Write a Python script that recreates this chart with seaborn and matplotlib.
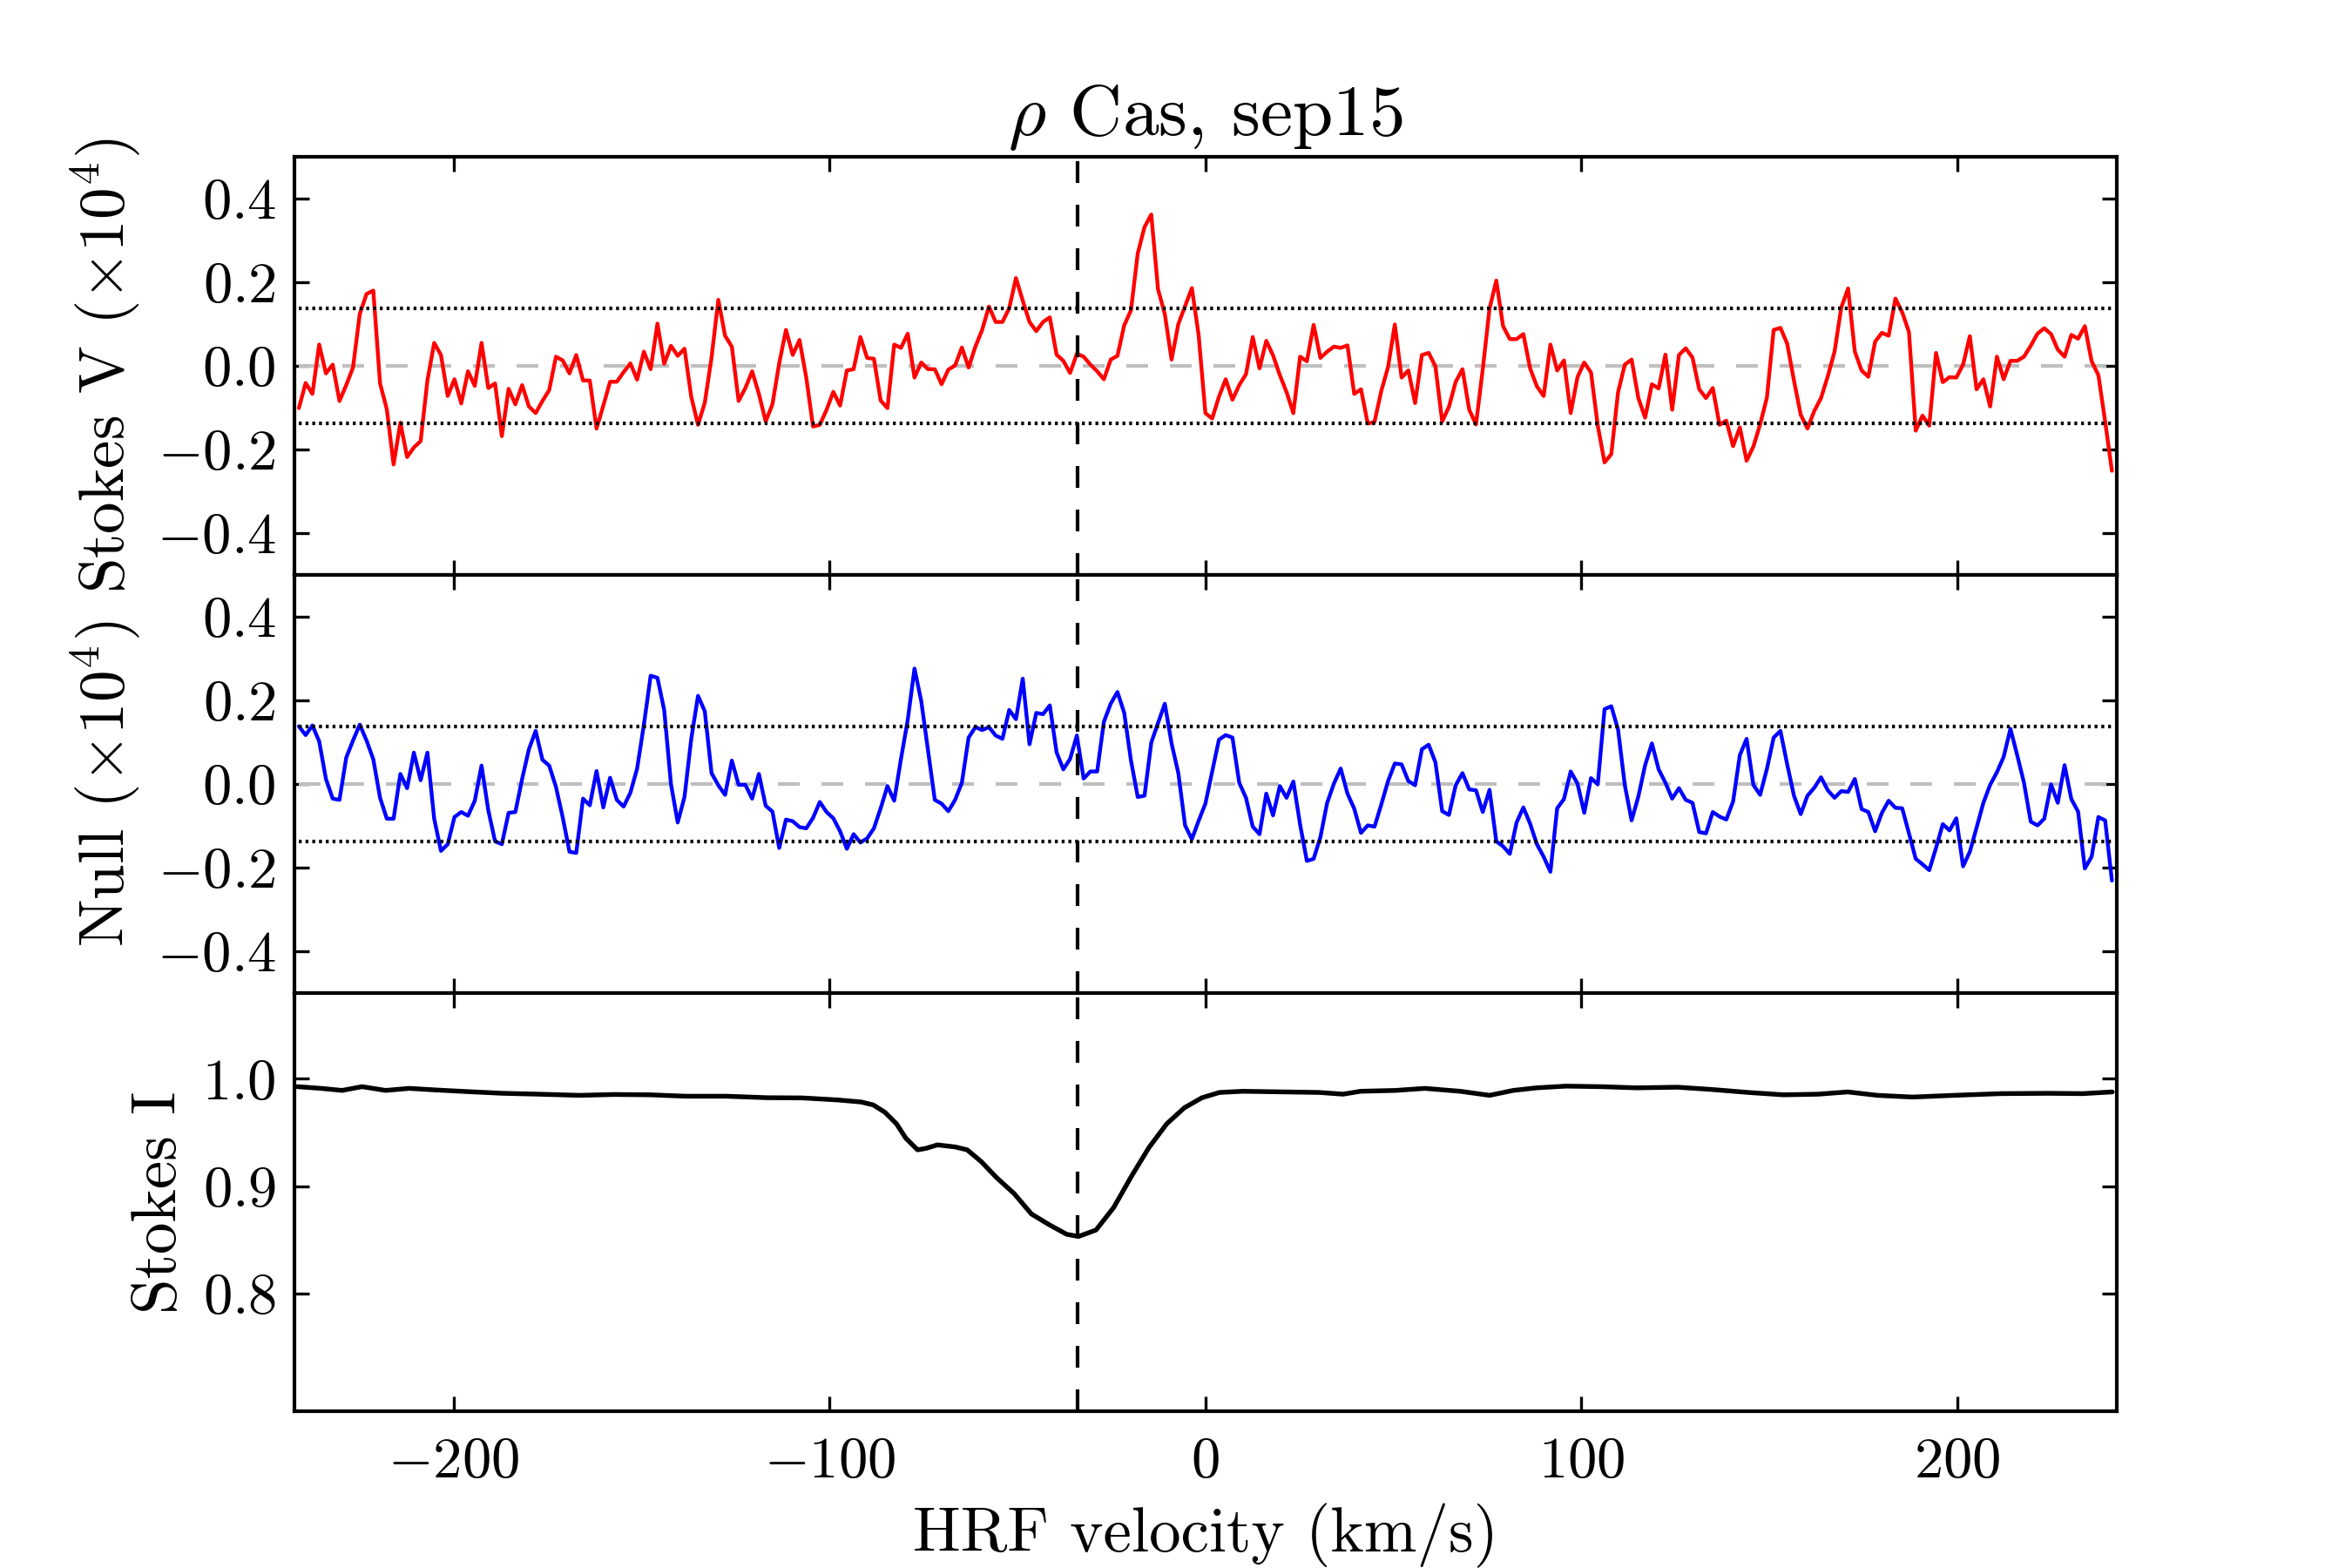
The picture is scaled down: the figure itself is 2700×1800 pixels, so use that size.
import numpy as np
import pandas as pd
import matplotlib
matplotlib.use("Agg")
import matplotlib.pyplot as plt
import seaborn as sns

# ---------------- data ----------------
VEL_START = -241.2      # km/s, first LSD velocity bin
VEL_STEP = 1.8          # km/s, bin width

stokes_v = [
    -0.101, -0.041, -0.067, 0.051, -0.018, 0.003, -0.084, -0.046, -0.004, 0.124,
    0.172, 0.180, -0.042, -0.104, -0.236, -0.136, -0.218, -0.195, -0.180, -0.035,
    0.055, 0.026, -0.072, -0.032, -0.090, -0.013, -0.048, 0.055, -0.053, -0.042,
    -0.168, -0.055, -0.092, -0.046, -0.097, -0.113, -0.084, -0.058, 0.022, 0.013,
    -0.018, 0.026, -0.035, -0.035, -0.150, -0.095, -0.038, -0.038, -0.015, 0.006,
    -0.033, 0.034, -0.008, 0.101, 0.005, 0.048, 0.024, 0.041, -0.074, -0.141,
    -0.088, 0.020, 0.158, 0.072, 0.046, -0.084, -0.053, -0.013, -0.067, -0.133,
    -0.092, 0.006, 0.086, 0.026, 0.062, -0.028, -0.145, -0.141, -0.105, -0.062,
    -0.095, -0.011, -0.008, 0.069, 0.019, 0.017, -0.083, -0.101, 0.051, 0.043,
    0.077, -0.028, 0.008, -0.008, -0.008, -0.044, -0.009, 0.001, 0.044, -0.004,
    0.046, 0.086, 0.142, 0.105, 0.105, 0.138, 0.210, 0.156, 0.105, 0.083,
    0.105, 0.116, 0.027, 0.012, -0.017, 0.029, 0.022, 0.003, -0.013, -0.032,
    0.015, 0.024, 0.097, 0.133, 0.269, 0.332, 0.362, 0.183, 0.124, 0.015,
    0.100, 0.143, 0.186, 0.074, -0.113, -0.126, -0.074, -0.032, -0.081, -0.046,
    -0.020, 0.069, -0.006, 0.060, 0.025, -0.022, -0.063, -0.113, 0.022, 0.011,
    0.098, 0.019, 0.034, 0.046, 0.043, 0.049, -0.067, -0.056, -0.138, -0.134,
    -0.060, -0.003, 0.099, -0.028, -0.011, -0.089, 0.026, 0.031, -0.001, -0.133,
    -0.098, -0.038, -0.008, -0.105, -0.140, -0.008, 0.137, 0.204, 0.095, 0.064,
    0.064, 0.076, -0.006, -0.049, -0.072, 0.051, -0.011, 0.013, -0.113, -0.027,
    0.008, -0.016, -0.143, -0.231, -0.211, -0.063, 0.003, 0.015, -0.077, -0.124,
    -0.044, -0.054, 0.027, -0.105, 0.026, 0.042, 0.020, -0.056, -0.077, -0.053,
    -0.141, -0.131, -0.192, -0.147, -0.227, -0.193, -0.140, -0.076, 0.086, 0.091,
    0.053, -0.035, -0.117, -0.150, -0.108, -0.077, -0.025, 0.034, 0.140, 0.185,
    0.034, -0.011, -0.026, 0.058, 0.079, 0.072, 0.161, 0.128, 0.081, -0.155,
    -0.119, -0.143, 0.031, -0.039, -0.027, -0.028, 0.003, 0.071, -0.056, -0.032,
    -0.097, 0.022, -0.032, 0.012, 0.012, 0.022, 0.048, 0.077, 0.090, 0.076,
    0.039, 0.022, 0.074, 0.065, 0.095, 0.011, -0.022, -0.133, -0.251,
]

null_n = [
    0.138, 0.117, 0.140, 0.102, 0.012, -0.035, -0.038, 0.063, 0.104, 0.142,
    0.104, 0.059, -0.033, -0.083, -0.083, 0.024, -0.010, 0.075, 0.009, 0.075,
    -0.083, -0.160, -0.144, -0.079, -0.067, -0.076, -0.040, 0.044, -0.063, -0.137,
    -0.144, -0.069, -0.067, 0.012, 0.083, 0.127, 0.058, 0.044, -0.007, -0.080,
    -0.162, -0.165, -0.035, -0.051, 0.031, -0.056, 0.015, -0.038, -0.054, -0.021,
    0.037, 0.142, 0.259, 0.254, 0.177, 0.000, -0.092, -0.031, 0.108, 0.211,
    0.174, 0.026, -0.003, -0.026, 0.056, -0.002, -0.002, -0.035, 0.024, -0.052,
    -0.066, -0.153, -0.085, -0.089, -0.103, -0.106, -0.081, -0.043, -0.067, -0.082,
    -0.113, -0.155, -0.120, -0.140, -0.130, -0.106, -0.058, -0.005, -0.040, 0.060,
    0.153, 0.276, 0.198, 0.080, -0.038, -0.047, -0.065, -0.038, 0.003, 0.111,
    0.136, 0.129, 0.136, 0.116, 0.108, 0.177, 0.155, 0.252, 0.095, 0.170,
    0.167, 0.188, 0.076, 0.035, 0.060, 0.116, 0.013, 0.030, 0.030, 0.149,
    0.192, 0.220, 0.170, 0.056, -0.031, -0.028, 0.099, 0.146, 0.192, 0.097,
    0.026, -0.099, -0.132, -0.088, -0.047, 0.030, 0.106, 0.117, 0.111, 0.003,
    -0.033, -0.102, -0.120, -0.023, -0.075, -0.005, -0.033, 0.006, -0.097, -0.184,
    -0.179, -0.127, -0.045, 0.001, 0.037, -0.023, -0.059, -0.117, -0.099, -0.102,
    -0.049, 0.007, 0.049, 0.047, 0.007, -0.003, 0.083, 0.094, 0.052, -0.065,
    -0.074, -0.003, 0.026, -0.013, -0.015, -0.067, -0.014, -0.137, -0.149, -0.167,
    -0.092, -0.056, -0.095, -0.144, -0.174, -0.210, -0.058, -0.036, 0.030, 0.001,
    -0.069, 0.014, -0.001, 0.179, 0.186, 0.130, -0.003, -0.087, -0.030, 0.045,
    0.097, 0.035, 0.003, -0.035, -0.010, -0.038, -0.045, -0.115, -0.118, -0.067,
    -0.078, -0.085, -0.042, 0.069, 0.108, -0.002, -0.026, 0.036, 0.111, 0.127,
    0.047, -0.028, -0.072, -0.028, -0.009, 0.016, -0.015, -0.033, -0.017, -0.019,
    0.012, -0.060, -0.067, -0.113, -0.069, -0.040, -0.057, -0.058, -0.118, -0.179,
    -0.192, -0.206, -0.153, -0.096, -0.111, -0.082, -0.197, -0.162, -0.104, -0.045,
    -0.002, 0.028, 0.065, 0.132, 0.069, 0.003, -0.090, -0.099, -0.083, -0.001,
    -0.045, 0.045, -0.036, -0.066, -0.202, -0.174, -0.079, -0.087, -0.231,
]

i_vel = [
    -241.6, -235.3, -229.7, -224.4, -218.1, -211.9, -204.1, -194.7, -186.9, -177.5,
    -166.6, -157.2, -147.8, -138.4, -127.5, -116.6, -107.2, -97.8, -91.6, -88.4,
    -85.3, -82.2, -79.7, -76.6, -74.4, -71.3, -66.6, -63.4, -59.7, -55.6,
    -50.9, -46.3, -41.6, -36.9, -33.75, -29.1, -24.4, -19.7, -15.0, -10.3,
    -5.6, -0.9, 3.75, 10.0, 20.9, 30.3, 36.6, 41.3, 50.6, 58.4,
    67.8, 75.6, 81.9, 88.1, 95.9, 105.3, 114.7, 125.6, 135.0, 144.4,
    153.8, 163.1, 170.9, 178.8, 188.1, 199.1, 211.6, 224.1, 233.4, 241.3,
]
i_val = [
    0.9927, 0.9911, 0.9892, 0.9927, 0.9892, 0.9911, 0.9895, 0.9878, 0.9865, 0.9857,
    0.9846, 0.9854, 0.9851, 0.9838, 0.9838, 0.9824, 0.9822, 0.9803, 0.9784, 0.9757,
    0.9689, 0.9581, 0.9446, 0.9338, 0.9351, 0.9384, 0.9365, 0.9338, 0.9230, 0.9080,
    0.8930, 0.8740, 0.8640, 0.8550, 0.8530, 0.8590, 0.8800, 0.9090, 0.9360, 0.9580,
    0.9730, 0.9824, 0.9873, 0.9884, 0.9878, 0.9873, 0.9857, 0.9884, 0.9892, 0.9911,
    0.9884, 0.9846, 0.9892, 0.9916, 0.9932, 0.9927, 0.9916, 0.9922, 0.9900, 0.9873,
    0.9851, 0.9857, 0.9878, 0.9846, 0.9830, 0.9846, 0.9862, 0.9865, 0.9862, 0.9878,
]

SIGMA = 0.1375          # detection-level dotted lines (x1e4)
V_RAD = -34.0           # radial velocity marker (km/s)
X_LIM = (-242.5, 242.5)
VN_LIM = (-0.5, 0.5)
I_LIM = (0.69, 1.08)
x_ticks = [-200, -100, 0, 100, 200]
vn_ticks = [-0.4, -0.2, 0.0, 0.2, 0.4]
i_ticks = [0.8, 0.9, 1.0]

title = r"$\rho$ Cas, sep15"
xlabel = "HRF velocity (km/s)"
ylabels = [r"Stokes V $(\times 10^4)$", r"Null $(\times 10^4)$", "Stokes I"]

# ---------------- style ----------------
sns.set_style("ticks")
plt.rcParams.update({
    "font.family": "serif",
    "font.serif": ["cmr10", "DejaVu Serif"],
    "mathtext.fontset": "cm",
    "axes.formatter.use_mathtext": True,
    "axes.unicode_minus": True,
    "lines.scale_dashes": False,
    "axes.linewidth": 1.0,
    "axes.edgecolor": "black",
    "text.color": "black",
    "axes.labelcolor": "black",
    "xtick.color": "black",
    "ytick.color": "black",
})

vel = VEL_START + VEL_STEP * np.arange(len(stokes_v))
df = pd.DataFrame({"vel": vel, "V": stokes_v, "N": null_n})
df_i = pd.DataFrame({"vel": i_vel, "I": i_val})

fig, axes = plt.subplots(3, 1, sharex=True, figsize=(9, 6), dpi=300)
fig.subplots_adjust(left=0.125, right=0.9, top=0.9, bottom=0.1, hspace=0)

for ax, col, color in [(axes[0], "V", "red"), (axes[1], "N", "blue")]:
    ax.plot([vel[0], vel[-1]], [0, 0], color="0.75", lw=1.0, dashes=(6, 6), zorder=1)
    for s in (SIGMA, -SIGMA):
        ax.plot([vel[0], vel[-1]], [s, s], color="black", lw=1.0,
                dashes=(0.8, 1.06), zorder=3)
    sns.lineplot(data=df, x="vel", y=col, ax=ax, color=color, lw=1.05, zorder=2)
    ax.set_ylim(*VN_LIM)
    ax.set_yticks(vn_ticks)

sns.lineplot(data=df_i, x="vel", y="I", ax=axes[2], color="black", lw=1.3, zorder=2)
axes[2].set_ylim(*I_LIM)
axes[2].set_yticks(i_ticks)

for ax, lab in zip(axes, ylabels):
    ax.axvline(V_RAD, color="black", lw=1.0, dashes=(6, 6), zorder=3)
    ax.set_xlim(*X_LIM)
    ax.set_xticks(x_ticks)
    ax.set_ylabel(lab, fontsize=17.5)
    ax.set_xlabel("")
    ax.tick_params(direction="in", top=True, right=True, length=4, width=0.8,
                   labelsize=16)
    ax.tick_params(axis="x", pad=7)
    ax.tick_params(axis="y", pad=5)
    for sp in ax.spines.values():
        sp.set_visible(True)
        sp.set_linewidth(1.0)
        sp.set_color("black")

axes[0].set_title(title, fontsize=20)
axes[2].set_xlabel(xlabel, fontsize=17.5)

fig.savefig("out.png", dpi=300)
